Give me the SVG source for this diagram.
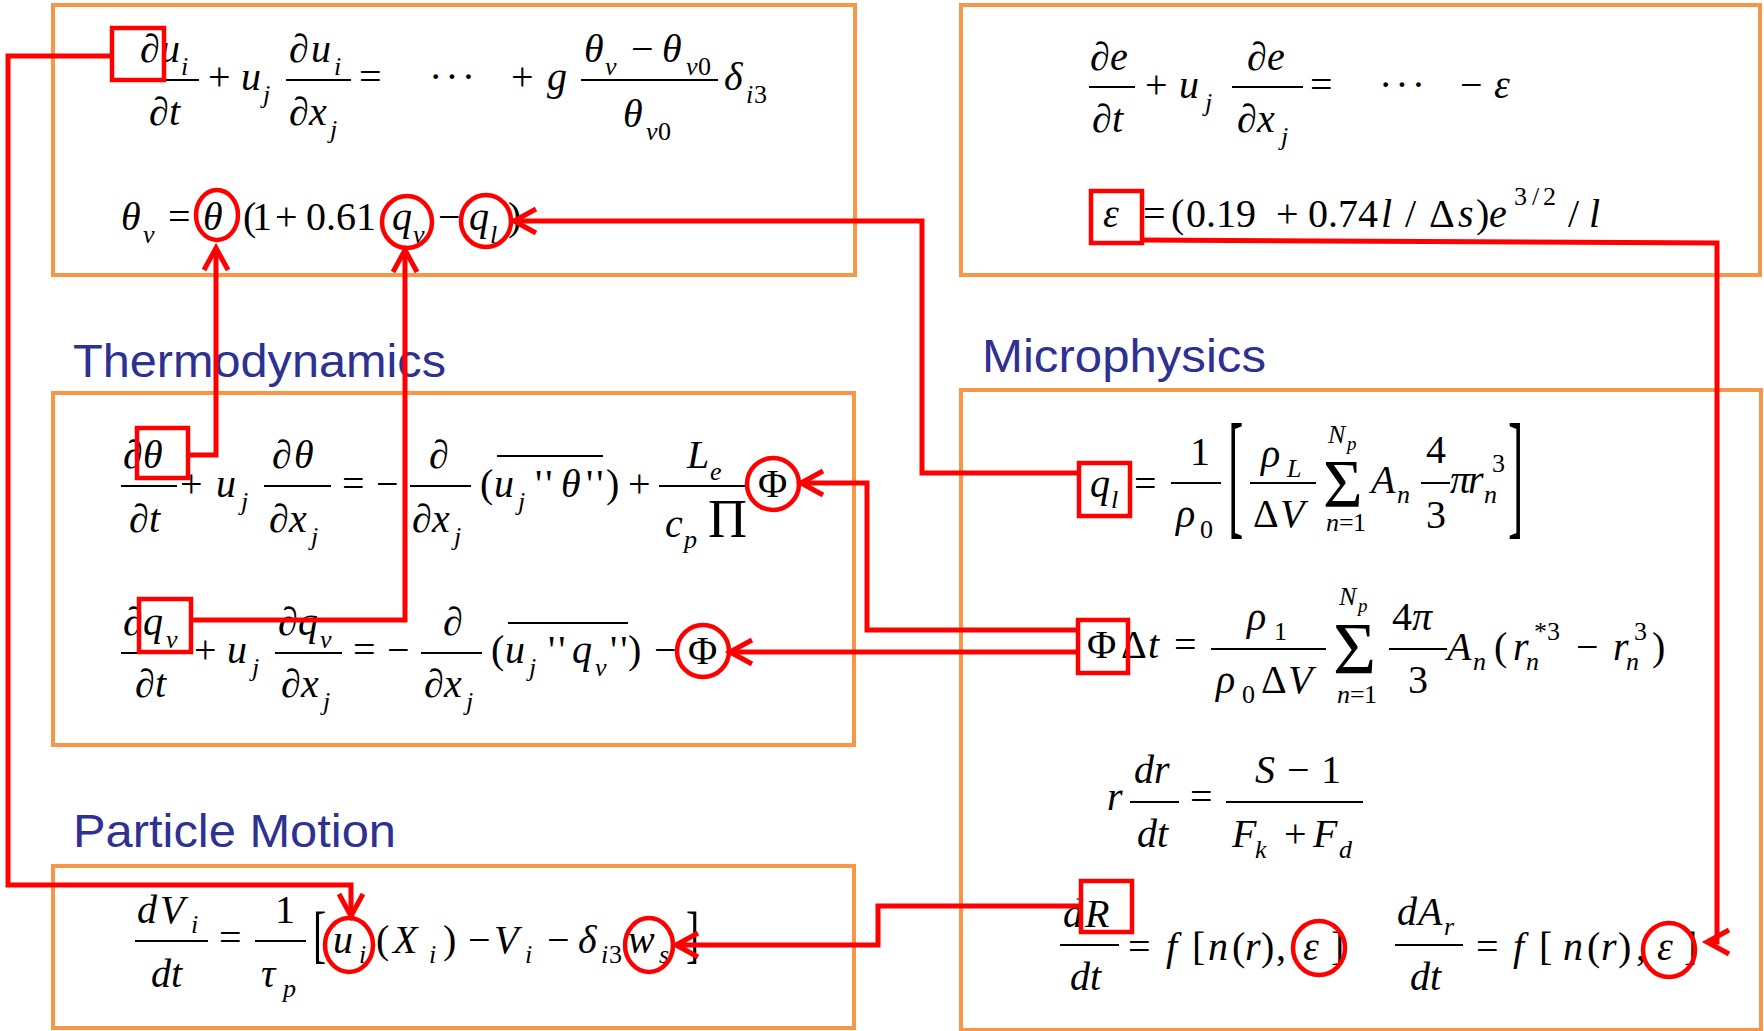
<svg xmlns="http://www.w3.org/2000/svg" width="1764" height="1031" viewBox="0 0 1764 1031">
<defs>
<style>
text{font-family:"Liberation Serif","Times New Roman",serif;font-size:40px;fill:#000}
.i{font-style:italic}
.s{font-size:26px}
.ss{font-size:19px}
.big{font-size:140px}
.br{font-size:64px}
.pi{font-size:54px}
.sg1{font-size:68px}
.sg2{font-size:74px}
.lbl{font-family:"Liberation Sans",Arial,sans-serif;font-size:46px;fill:#2E3192}
.box{fill:#fff;stroke:#F79646;stroke-width:4}
.bar{stroke:#000;stroke-width:2;fill:none}
.hl{fill:none;stroke:#FF0000;stroke-width:4.5}
.con{fill:none;stroke:#FF0000;stroke-width:5;stroke-linejoin:miter}
</style>
<marker id="chev" markerUnits="userSpaceOnUse" markerWidth="34" markerHeight="34" viewBox="-28 -17 34 34" refX="0" refY="0" orient="auto">
<path d="M-22,-12 L0,0 L-22,12" fill="none" stroke="#FF0000" stroke-width="5"/>
</marker>
</defs>
<rect width="1764" height="1031" fill="#fff"/>

<g id="node-momentum">
<rect class="box" x="53" y="5" width="802" height="270"/>
<path class="bar" d="M138,80H199M286,80H351M581,80H718"/>
<text x="140" y="62">∂</text><text class="i" x="160" y="62">u</text><text class="i s" x="181" y="75">i</text>
<text x="149" y="125">∂</text><text class="i" x="169" y="125">t</text>
<text x="208" y="90">+</text>
<text class="i" x="241" y="90">u</text><text class="i s" x="263" y="103">j</text>
<text x="289" y="62">∂</text><text class="i" x="311" y="62">u</text><text class="i s" x="334" y="75">i</text>
<text x="289" y="125">∂</text><text class="i" x="309" y="125">x</text><text class="i s" x="330" y="138">j</text>
<text x="359" y="90">=</text>
<text x="429" y="90" letter-spacing="3">···</text>
<text x="511" y="90">+</text>
<text class="i" x="547" y="90">g</text>
<text class="i" x="584" y="62">θ</text><text class="i s" x="605" y="75">v</text>
<text x="631" y="62">−</text>
<text class="i" x="662" y="62">θ</text><text class="i s" x="686" y="75">v</text><text class="s" x="698" y="75">0</text>
<text class="i" x="623" y="127">θ</text><text class="i s" x="646" y="140">v</text><text class="s" x="658" y="140">0</text>
<text class="i" x="724" y="90">δ</text><text class="i s" x="746" y="103">i</text><text class="s" x="754" y="103">3</text>
<text class="i" x="121" y="230">θ</text><text class="i s" x="143" y="243">v</text>
<text x="168" y="230">=</text>
<text class="i" x="203" y="230">θ</text>
<text x="243" y="230">(</text><text x="252" y="230">1</text><text x="275" y="230">+</text><text x="306" y="230">0.61</text>
<text class="i" x="392" y="230">q</text><text class="i s" x="413" y="243">v</text>
<text x="438" y="230">−</text>
<text class="i" x="469" y="230">q</text><text class="i s" x="490" y="243">l</text>
<text x="508" y="230">)</text>
</g>

<g id="node-tke">
<rect class="box" x="961" y="5" width="799" height="270"/>
<path class="bar" d="M1089,87H1135M1232,87H1303"/>
<text x="1090" y="70">∂</text><text class="i" x="1110" y="70">e</text>
<text x="1092" y="132">∂</text><text class="i" x="1112" y="132">t</text>
<text x="1145" y="98">+</text>
<text class="i" x="1179" y="98">u</text><text class="i s" x="1205" y="111">j</text>
<text x="1247" y="70">∂</text><text class="i" x="1267" y="70">e</text>
<text x="1237" y="132">∂</text><text class="i" x="1257" y="132">x</text><text class="i s" x="1281" y="145">j</text>
<text x="1310" y="98">=</text>
<text x="1379" y="98" letter-spacing="3">···</text>
<text x="1460" y="98">−</text>
<text class="i" x="1494" y="98">ε</text>
<text class="i" x="1103" y="227">ε</text>
<text x="1143" y="227">=</text>
<text x="1171" y="227">(</text><text x="1186" y="227">0.19</text><text x="1276" y="227">+</text><text x="1308" y="227">0.74</text>
<text class="i" x="1381" y="227">l</text><text x="1405" y="227">/</text><text x="1429" y="227">Δ</text><text class="i" x="1458" y="227">s</text><text x="1476" y="227">)</text><text class="i" x="1489" y="227">e</text>
<text class="s" x="1514" y="205">3</text><text class="s" x="1532" y="205">/</text><text class="s" x="1543" y="205">2</text>
<text x="1568" y="227">/</text><text class="i" x="1589" y="227">l</text>
</g>

<g id="node-thermodynamics">
<text class="lbl" x="73" y="377" textLength="373" lengthAdjust="spacingAndGlyphs">Thermodynamics</text>
<rect class="box" x="53" y="393" width="801" height="352"/>
<path class="bar" d="M121,486H177M264,486H331M410,486H471M659,486H746M497,456H603"/>
<text x="123" y="468">∂</text><text class="i" x="143" y="468">θ</text>
<text x="129" y="532">∂</text><text class="i" x="149" y="532">t</text>
<text x="180" y="497">+</text>
<text class="i" x="216" y="497">u</text><text class="i s" x="241" y="510">j</text>
<text x="272" y="468">∂</text><text class="i" x="294" y="468">θ</text>
<text x="269" y="532">∂</text><text class="i" x="289" y="532">x</text><text class="i s" x="311" y="545">j</text>
<text x="342" y="497">=</text><text x="376" y="497">−</text>
<text x="429" y="468">∂</text>
<text x="412" y="532">∂</text><text class="i" x="432" y="532">x</text><text class="i s" x="454" y="545">j</text>
<text x="480" y="497">(</text><text class="i" x="494" y="497">u</text><text class="i s" x="518" y="510">j</text>
<text x="535" y="497" letter-spacing="3">''</text><text class="i" x="561" y="497">θ</text><text x="586" y="497" letter-spacing="3">''</text><text x="606" y="497">)</text>
<text x="628" y="497">+</text>
<text class="i" x="687" y="468">L</text><text class="i s" x="710" y="480">e</text>
<text class="i" x="665" y="537">c</text><text class="i s" x="684" y="548">p</text>
<text class="pi" x="708" y="537">Π</text>
<text x="758" y="497">Φ</text>
<path class="bar" d="M121,653H188M275,653H342M421,653H482M508,623H628"/>
<text x="123" y="635">∂</text><text class="i" x="143" y="635">q</text><text class="i s" x="166" y="648">v</text>
<text x="135" y="697">∂</text><text class="i" x="155" y="697">t</text>
<text x="194" y="663">+</text>
<text class="i" x="227" y="663">u</text><text class="i s" x="252" y="676">j</text>
<text x="278" y="635">∂</text><text class="i" x="298" y="635">q</text><text class="i s" x="320" y="648">v</text>
<text x="281" y="697">∂</text><text class="i" x="301" y="697">x</text><text class="i s" x="323" y="710">j</text>
<text x="353" y="663">=</text><text x="387" y="663">−</text>
<text x="443" y="635">∂</text>
<text x="424" y="697">∂</text><text class="i" x="444" y="697">x</text><text class="i s" x="466" y="710">j</text>
<text x="491" y="663">(</text><text class="i" x="505" y="663">u</text><text class="i s" x="529" y="676">j</text>
<text x="548" y="663" letter-spacing="3">''</text><text class="i" x="572" y="663">q</text><text class="i s" x="595" y="676">v</text><text x="610" y="663" letter-spacing="3">''</text><text x="628" y="663">)</text>
<text x="654" y="663">−</text>
<text x="688" y="664">Φ</text>
</g>

<g id="node-microphysics">
<text class="lbl" x="982" y="372" textLength="284" lengthAdjust="spacingAndGlyphs">Microphysics</text>
<rect class="box" x="961" y="390" width="800" height="640"/>
<path class="bar" d="M1171,483H1221M1250,483H1316M1421,483H1450M1211,649H1326M1389,649H1447M1130,802H1179M1226,802H1363M1060,945H1119M1395,945H1463"/>
<text class="i" x="1090" y="497">q</text><text class="i s" x="1111" y="508">l</text>
<text x="1134" y="497">=</text>
<text x="1190" y="465">1</text>
<text class="i" x="1176" y="527">ρ</text><text class="s" x="1200" y="538">0</text>
<text class="big" transform="translate(1228,520) scale(0.33,1)">[</text>
<text class="big" transform="translate(1508,520) scale(0.33,1)">]</text>
<text class="i" x="1261" y="467">ρ</text><text class="i s" x="1287" y="477">L</text>
<text x="1253" y="527">Δ</text><text class="i" x="1280" y="527">V</text>
<text class="sg1" x="1323" y="506">Σ</text>
<text class="i s" x="1328" y="443">N</text><text class="i ss" x="1347" y="450">p</text>
<text class="i s" x="1326" y="531">n</text><text class="s" x="1339" y="531">=</text><text class="s" x="1353" y="531">1</text>
<text class="i" x="1371" y="493">A</text><text class="i s" x="1397" y="503">n</text>
<text x="1426" y="463">4</text><text x="1426" y="528">3</text>
<text class="i" x="1450" y="493">π</text><text class="i" x="1468" y="493">r</text><text class="i s" x="1484" y="503">n</text><text class="s" x="1492" y="472">3</text>
<text x="1087" y="658">Φ</text><text x="1121" y="658">Δ</text><text class="i" x="1148" y="658">t</text>
<text x="1174" y="658">=</text>
<text class="i" x="1247" y="630">ρ</text><text class="s" x="1274" y="640">1</text>
<text class="i" x="1216" y="693">ρ</text><text class="s" x="1242" y="703">0</text><text x="1261" y="693">Δ</text><text class="i" x="1288" y="693">V</text>
<text class="sg2" x="1333" y="674">Σ</text>
<text class="i s" x="1339" y="605">N</text><text class="i ss" x="1358" y="612">p</text>
<text class="i s" x="1337" y="703">n</text><text class="s" x="1350" y="703">=</text><text class="s" x="1364" y="703">1</text>
<text x="1392" y="630">4</text><text class="i" x="1412" y="630">π</text>
<text x="1408" y="693">3</text>
<text class="i" x="1447" y="660">A</text><text class="i s" x="1473" y="670">n</text>
<text x="1494" y="660">(</text>
<text class="i" x="1513" y="660">r</text><text class="i s" x="1526" y="670">n</text><text class="s" x="1534" y="640">*3</text>
<text x="1576" y="660">−</text>
<text class="i" x="1613" y="660">r</text><text class="i s" x="1626" y="670">n</text><text class="s" x="1634" y="640">3</text>
<text x="1652" y="660">)</text>
<text class="i" x="1107" y="810">r</text>
<text class="i" x="1134" y="783">d</text><text class="i" x="1154" y="783">r</text>
<text class="i" x="1137" y="847">d</text><text class="i" x="1157" y="847">t</text>
<text x="1190" y="810">=</text>
<text class="i" x="1255" y="783">S</text><text x="1287" y="783">−</text><text x="1321" y="783">1</text>
<text class="i" x="1232" y="847">F</text><text class="i s" x="1255" y="858">k</text><text x="1284" y="847">+</text><text class="i" x="1313" y="847">F</text><text class="i s" x="1339" y="858">d</text>
<text class="i" x="1063" y="927">d</text><text class="i" x="1085" y="927">R</text>
<text class="i" x="1070" y="990">d</text><text class="i" x="1090" y="990">t</text>
<text x="1128" y="960">=</text>
<text class="i" x="1166" y="960">f</text><text x="1192" y="960">[</text><text class="i" x="1208" y="960">n</text><text x="1232" y="960">(</text><text class="i" x="1245" y="960">r</text><text x="1261" y="960">)</text><text x="1276" y="960">,</text><text class="i" x="1303" y="960">ε</text><text x="1331" y="960">]</text>
<text class="i" x="1397" y="925">d</text><text class="i" x="1418" y="925">A</text><text class="i s" x="1444" y="935">r</text>
<text class="i" x="1410" y="990">d</text><text class="i" x="1430" y="990">t</text>
<text x="1476" y="960">=</text>
<text class="i" x="1513" y="960">f</text><text x="1539" y="960">[</text><text class="i" x="1563" y="960">n</text><text x="1587" y="960">(</text><text class="i" x="1601" y="960">r</text><text x="1618" y="960">)</text><text x="1636" y="960">,</text><text class="i" x="1657" y="960">ε</text><text x="1684" y="960">]</text>
</g>

<g id="node-particle-motion">
<text class="lbl" x="73" y="847" textLength="323" lengthAdjust="spacingAndGlyphs">Particle Motion</text>
<rect class="box" x="53" y="866" width="801" height="162"/>
<path class="bar" d="M135,941H208M255,941H306"/>
<text class="i" x="137" y="923">d</text><text class="i" x="160" y="923">V</text><text class="i s" x="191" y="933">i</text>
<text class="i" x="151" y="987">d</text><text class="i" x="171" y="987">t</text>
<text x="219" y="951">=</text>
<text x="275" y="923">1</text>
<text class="i" x="261" y="987">τ</text><text class="i s" x="283" y="997">p</text>
<text class="br" transform="translate(313,955) scale(0.62,1)">[</text>
<text class="i" x="333" y="953">u</text><text class="i s" x="359" y="963">i</text>
<text x="376" y="953">(</text><text class="i" x="393" y="953">X</text><text class="i s" x="429" y="963">i</text><text x="443" y="953">)</text>
<text x="468" y="953">−</text><text class="i" x="494" y="953">V</text><text class="i s" x="525" y="963">i</text>
<text x="547" y="953">−</text><text class="i" x="578" y="953">δ</text><text class="i s" x="601" y="963">i</text><text class="s" x="609" y="963">3</text>
<text class="i" x="628" y="953">w</text><text class="i s" x="659" y="963">s</text>
<text class="br" transform="translate(686,955) scale(0.62,1)">]</text>
</g>

<g id="highlights">
<rect class="hl" x="112" y="28" width="52" height="52"/>
<rect class="hl" x="1091" y="191" width="51" height="52"/>
<rect class="hl" x="137" y="428" width="51" height="50"/>
<rect class="hl" x="139" y="599" width="52" height="53"/>
<rect class="hl" x="1079" y="463" width="51" height="53"/>
<rect class="hl" x="1078" y="620" width="50" height="53"/>
<rect class="hl" x="1081" y="881" width="51" height="51"/>
<ellipse class="hl" cx="217" cy="215" rx="21" ry="25"/>
<ellipse class="hl" cx="407" cy="222" rx="25" ry="26"/>
<ellipse class="hl" cx="486" cy="221" rx="25" ry="26"/>
<ellipse class="hl" cx="773" cy="484" rx="26" ry="26"/>
<ellipse class="hl" cx="703" cy="651" rx="26" ry="26"/>
<ellipse class="hl" cx="349" cy="945" rx="24" ry="27"/>
<ellipse class="hl" cx="649" cy="945" rx="24" ry="27"/>
<ellipse class="hl" cx="1319" cy="948" rx="26" ry="27"/>
<ellipse class="hl" cx="1669" cy="950" rx="26" ry="27"/>
</g>

<g id="connectors">
<path class="con" d="M112,56H8V885H351V916" marker-end="url(#chev)"/>
<path class="con" d="M188,455H216V248" marker-end="url(#chev)"/>
<path class="con" d="M191,620H405V250" marker-end="url(#chev)"/>
<path class="con" d="M1079,473H922V221H514" marker-end="url(#chev)"/>
<path class="con" d="M1078,630H867V483H801" marker-end="url(#chev)"/>
<path class="con" d="M1078,652H730" marker-end="url(#chev)"/>
<path class="con" d="M1081,906H878V945H676" marker-end="url(#chev)"/>
<path class="con" d="M1142,240L1717,243V942H1707" marker-end="url(#chev)"/>
</g>
</svg>
